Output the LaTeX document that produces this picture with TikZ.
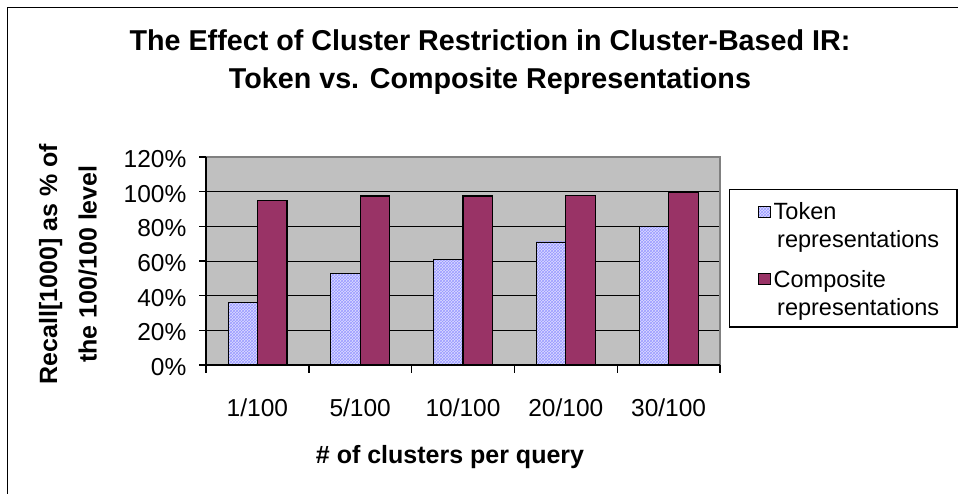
\documentclass[tikz,border=0pt]{standalone}
\usepackage{fontspec}
\setmainfont{Liberation Sans}
\usetikzlibrary{patterns}
\definecolor{plotbg}{HTML}{C0C0C0}
\definecolor{compcol}{HTML}{993366}
\definecolor{tokcol}{HTML}{9999FF}
\definecolor{toklight}{HTML}{DCDCFF}
\definecolor{bordergray}{HTML}{808080}
\begin{document}
\begin{tikzpicture}[x=1pt,y=-1pt,
  ticklab/.style={font=\fontsize{24.5}{28}\selectfont, inner sep=0pt},
  axtitle/.style={font=\bfseries\fontsize{25}{30}\selectfont, inner sep=0pt},
  titletext/.style={font=\bfseries\fontsize{28.7}{34}\selectfont, inner sep=0pt, anchor=base},
  legtext/.style={font=\fontsize{23.5}{28}\selectfont, inner sep=0pt, anchor=base west},
  tokenbar/.style={preaction={fill=toklight}, pattern=crosshatch, pattern color=tokcol, draw=black, line width=0.8pt},
  compbar/.style={fill=compcol, draw=black, line width=1.2pt},
  gridrule/.style={black, line width=1pt},
  axisrule/.style={black, line width=1.4pt},
]
\useasboundingbox (0,0) rectangle (958,494);
\clip (0,0) rectangle (958,494);
\fill[white] (0,0) rectangle (958,494);

% chart frame (continues past the right and bottom edges)
\draw[line width=1.2pt] (7.5,620) -- (7.5,7.5) -- (1100,7.5);

% title
\node[titletext] (title1) at (490,51) {The Effect of Cluster Restriction in Cluster-Based IR:};
\node[titletext] (title2) at (490,88.5) {Token vs. Composite Representations};

% plot area
\fill[plotbg] (206,157) rectangle (720,365);
\foreach \v in {20,40,60,80,100} {
  \draw[gridrule] (206,{365-1.7333*\v}) -- (720,{365-1.7333*\v});
}
\draw[bordergray, line width=1.6pt] (206,157) -- (720,157) -- (720,365);

% bars: token / composite
\foreach \t/\cv [count=\i from 0] in {36/95, 53/97.5, 61/97.5, 71/97.7, 80/99.6} {
  \pgfmathsetmacro\c{206+102.8*(\i+0.5)}
  \pgfmathsetmacro\yt{365-1.7333*\t}
  \pgfmathsetmacro\yc{365-1.7333*\cv}
  \draw[tokenbar] (\c-29.5,365) rectangle (\c,\yt);
  \draw[compbar] (\c,365) rectangle (\c+29.5,\yc);
}

% axes and ticks
\draw[axisrule] (206,157) -- (206,365) -- (720,365);
\foreach \v in {0,20,40,60,80,100,120} {
  \draw[axisrule] (199,{365-1.7333*\v}) -- (206,{365-1.7333*\v});
  \node[ticklab, anchor=base east] (ylab\v) at (186.5,{375.5-1.7333*\v}) {\v\%};
}
\foreach \i in {0,...,5} {
  \draw[axisrule] ({206+102.8*\i},365) -- ({206+102.8*\i},373);
}

% category labels
\foreach \lab [count=\i from 0] in {1/100,5/100,10/100,20/100,30/100} {
  \node[ticklab, anchor=base] (cat\i) at ({206+102.8*(\i+0.5)},416) {\lab};
}

% axis titles
\node[axtitle, anchor=base] (xtitle) at (450,463) {\# of clusters per query};
\node[axtitle, anchor=base, rotate=90] (ytitle1) at (57,264) {Recall[1000] as \% of};
\node[axtitle, anchor=base, rotate=90] (ytitle2) at (96.5,264) {the 100/100 level};

% legend
\draw[black, line width=1.3pt, fill=white] (729.5,189.5) rectangle (957,327);
\draw[tokenbar, line width=1pt] (758.5,206.5) rectangle (770,217.5);
\draw[compbar, line width=1pt] (758.5,273.5) rectangle (770,284.5);
\node[legtext] (leg1a) at (773.5,220) {Token};
\node[legtext] (leg1b) at (777,248) {representations};
\node[legtext] (leg2a) at (773.5,287.7) {Composite};
\node[legtext] (leg2b) at (777,315.7) {representations};
\end{tikzpicture}
\end{document}
